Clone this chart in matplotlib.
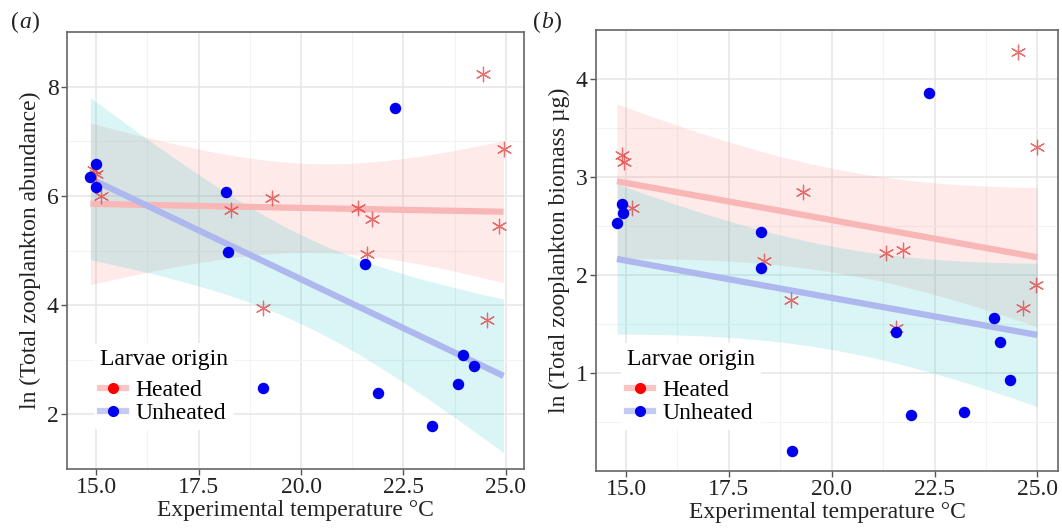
import numpy as np
import matplotlib
matplotlib.use("Agg")
from matplotlib import pyplot as plt
from matplotlib.lines import Line2D
from matplotlib.legend_handler import HandlerTuple

# panel (a): ln total zooplankton abundance
a_heat_x = [14.95, 15.0, 15.12, 18.29, 19.06, 19.28, 21.39, 21.61, 21.72, 24.44, 24.54, 24.84, 24.94]
a_heat_y = [6.48, 6.40, 5.99, 5.75, 3.95, 5.97, 5.77, 4.93, 5.57, 8.23, 3.72, 5.45, 6.86]
a_unheat_x = [14.86, 15.0, 15.0, 18.17, 18.22, 19.08, 21.55, 21.88, 22.30, 23.19, 23.82, 23.96, 24.21]
a_unheat_y = [6.35, 6.58, 6.16, 6.08, 4.97, 2.49, 4.76, 2.39, 7.61, 1.79, 2.56, 3.09, 2.89]

# panel (b): ln total zooplankton biomass
b_heat_x = [14.90, 14.96, 15.14, 18.36, 19.00, 19.30, 21.33, 21.57, 21.74, 24.52, 24.64, 24.97, 25.0]
b_heat_y = [3.22, 3.15, 2.68, 2.14, 1.74, 2.85, 2.22, 1.46, 2.26, 4.28, 1.66, 1.90, 3.31]
b_unheat_x = [14.78, 14.90, 14.93, 18.27, 18.28, 19.03, 21.57, 21.93, 22.36, 23.21, 23.94, 24.10, 24.33]
b_unheat_y = [2.53, 2.72, 2.63, 2.44, 2.07, 0.20, 1.42, 0.57, 3.86, 0.60, 1.56, 1.32, 0.93]

x_ticks = [15.0, 17.5, 20.0, 22.5, 25.0]
a_y_ticks = [2, 4, 6, 8]
b_y_ticks = [1, 2, 3, 4]

HEAT_FILL = "#F8766D"
UNHEAT_FILL = "#00BFC4"
# t quantiles (0.975) for the residual df of each model
T_QUANT = {22: 2.074, 23: 2.069}

plt.rcParams["font.family"] = ["Liberation Serif", "DejaVu Serif"]


def design(x, g, interaction):
    cols = [np.ones_like(x), x, g]
    if interaction:
        cols.append(g * x)
    return np.column_stack(cols)


def lm_bands(hx, hy, ux, uy, grid, interaction):
    # one linear model for both groups (pooled residual variance)
    x = np.concatenate([hx, ux]).astype(float)
    y = np.concatenate([hy, uy]).astype(float)
    g = np.concatenate([np.ones(len(hx)), np.zeros(len(ux))])
    X = design(x, g, interaction)
    beta, *_ = np.linalg.lstsq(X, y, rcond=None)
    df = len(y) - X.shape[1]
    s2 = np.sum((y - X @ beta) ** 2) / df
    cov = s2 * np.linalg.inv(X.T @ X)
    out = []
    for gv in (1.0, 0.0):
        Xg = design(grid, np.full_like(grid, gv), interaction)
        fit = Xg @ beta
        se = np.sqrt(np.einsum("ij,jk,ik->i", Xg, cov, Xg))
        out.append((fit, fit - T_QUANT[df] * se, fit + T_QUANT[df] * se))
    return out


def draw_panel(ax, hx, hy, ux, uy, yticks, ylim, xlim, ylabel, interaction, leg_anchor):
    lo = min(min(hx), min(ux))
    hi = max(max(hx), max(ux))
    grid = np.linspace(lo, hi, 100)

    bands = lm_bands(hx, hy, ux, uy, grid, interaction)
    for (fit, low, up), fill, line in zip(bands, [HEAT_FILL, UNHEAT_FILL], ["#F9B6B6", "#AEB8EF"]):
        ax.fill_between(grid, low, up, color=fill, alpha=0.15, lw=0, zorder=2)
        ax.plot(grid, fit, color=line, lw=4.5, solid_capstyle="butt", zorder=3)

    ax.scatter(hx, hy, marker=(6, 2, 0), s=110, color="#E0413F", alpha=0.75, lw=0.9, zorder=4)
    ax.scatter(ux, uy, s=68, color="#0000EE", lw=0, zorder=5)

    ax.set_xlim(*xlim)
    ax.set_ylim(*ylim)
    ax.set_xticks(x_ticks)
    ax.set_xticklabels([f"{v:.1f}" for v in x_ticks])
    ax.set_yticks(yticks)
    step = yticks[1] - yticks[0]
    ax.set_xticks([16.25, 18.75, 21.25, 23.75], minor=True)
    ax.set_yticks([v - 0.5 * step for v in yticks] + [yticks[-1] + 0.5 * step], minor=True)
    ax.grid(which="major", color="#E8E8E8", lw=1.2, zorder=0)
    ax.grid(which="minor", color="#F3F3F3", lw=0.8, zorder=0)
    ax.set_axisbelow(True)
    ax.tick_params(which="major", direction="out", length=4, width=1, color="#555555",
                   labelsize=17, labelcolor="#222222", pad=2)
    ax.tick_params(which="minor", length=0)
    for sp in ax.spines.values():
        sp.set_color("#666666")
        sp.set_linewidth(1.2)
    ax.set_xlabel("Experimental temperature °C", fontsize=17, color="#222222", labelpad=1)
    ax.set_ylabel(ylabel, fontsize=17, color="#222222", labelpad=4)

    h_heat = (Line2D([], [], color="#F9C4C4", lw=4.5), Line2D([], [], ls="", marker="o", color="#FF0000", ms=7))
    h_unheat = (Line2D([], [], color="#C4CAF3", lw=4.5), Line2D([], [], ls="", marker="o", color="#0000EE", ms=7))
    leg = ax.legend([h_heat, h_unheat], ["Heated", "Unheated"], title="Larvae origin",
                    handler_map={tuple: HandlerTuple(ndivide=1)}, loc="lower left",
                    bbox_to_anchor=leg_anchor, frameon=True, fontsize=17, title_fontsize=17,
                    handlelength=1.1, handletextpad=0.4, labelspacing=0.05, borderpad=0.25)
    leg.get_frame().set_edgecolor("none")
    leg.get_frame().set_facecolor("white")
    leg.get_frame().set_alpha(1.0)
    leg._legend_box.align = "left"
    leg._legend_box.sep = 7.3  # extra gap under the title
    leg.set_zorder(6)


fig = plt.figure(figsize=(10.62, 5.28), dpi=100)
ax_a = fig.add_axes([67 / 1062, 1 - 469 / 528, 457 / 1062, 437 / 528])
ax_b = fig.add_axes([596 / 1062, 1 - 471 / 528, 462 / 1062, 441 / 528])

draw_panel(ax_a, a_heat_x, a_heat_y, a_unheat_x, a_unheat_y, a_y_ticks, (1.03, 8.57),
           (14.29, 25.44), "ln (Total zooplankton abundance)", True, (0.033, 0.062))
draw_panel(ax_b, b_heat_x, b_heat_y, b_unheat_x, b_unheat_y, b_y_ticks, (0.0, 4.49),
           (14.27, 25.5), "ln (Total zooplankton biomass µg)", False, (0.028, 0.066))

for px, tag in [(11, "a"), (533, "b")]:
    fig.text(px / 1062, 1 - 28 / 528, "(", fontsize=17, color="#222222", va="baseline")
    fig.text((px + 8) / 1062, 1 - 28 / 528, tag, fontsize=17, style="italic", color="#222222", va="baseline")
    fig.text((px + 20) / 1062, 1 - 28 / 528, ")", fontsize=17, color="#222222", va="baseline")

fig.savefig("out.png", dpi=100)
